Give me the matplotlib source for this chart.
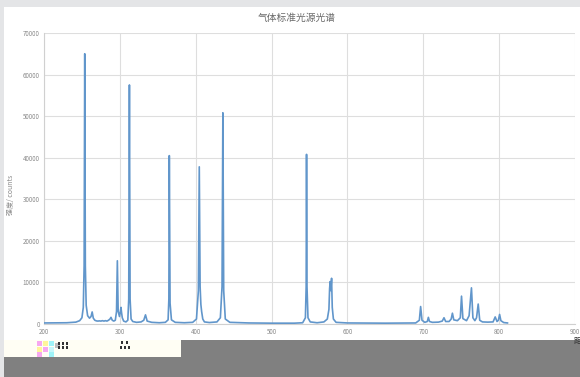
import matplotlib
matplotlib.use("Agg")
import matplotlib.pyplot as plt
from matplotlib.patches import Rectangle

plt.rcParams['font.family'] = ['Noto Sans CJK SC', 'DejaVu Sans']

title = "气体标准光源光谱"
ylabel = "强度/ counts"
xticks = [200, 300, 400, 500, 600, 700, 800, 900]
yticks = [0, 10000, 20000, 30000, 40000, 50000, 60000, 70000]

wavelength = [200, 230, 242, 247, 250, 251.8, 252.9, 253.7, 254.5, 255.6, 257.5, 260,
              262, 263.5, 265, 267, 269, 271, 273, 275, 277, 279, 281, 283, 285,
              287, 288.3, 290, 292, 294, 295.6, 296.7, 297.8, 299.5, 301.5, 302.2, 303.2,
              305, 308, 310.5, 311.7, 312.6, 313.5, 314.8, 317, 322, 328, 331.5, 333.8,
              336, 342, 352, 360, 363.6, 364.6, 365.2, 366.2, 368, 373, 385, 396,
              401, 403.5, 404.7, 405.8, 406.8, 407.8, 409.3, 411.5, 418, 428, 432.5,
              434.7, 435.8, 436.9, 439, 445, 470, 500, 530, 541, 544.6, 545.6, 546.1,
              546.7, 548, 551, 560, 569, 573.5, 575.6, 576.5, 577.2, 578.2, 579.1,
              580, 581.5, 585, 600, 650, 690, 694.8, 696.5, 698.3, 702, 705.3, 706.7,
              708.2, 712, 720, 725, 727.3, 729.5, 734, 736.8, 738.4, 740.2, 745, 748.8,
              750.4, 752.2, 757, 760.4, 763.5, 765.4, 768, 770.2, 772.4, 774.4, 778,
              785, 792, 794.8, 797.2, 799, 800.6, 802.3, 806, 811]
intensity = [250, 300, 450, 800, 1500, 4000, 14000, 65000, 14000, 4500, 2000, 1400,
             1800, 2900, 1400, 900, 750, 700, 750, 700, 800, 700, 800, 700, 900,
             1200, 1600, 900, 700, 900, 3000, 15200, 3000, 1800, 4000, 2800, 1500,
             700, 500, 900, 6000, 57500, 6000, 1200, 600, 400, 500, 900, 2200,
             700, 400, 300, 400, 1000, 6000, 40500, 5000, 1000, 400, 300, 400,
             1200, 8000, 37800, 9000, 4700, 3000, 1200, 500, 350, 500, 1500,
             9000, 50800, 8000, 1200, 400, 250, 200, 200, 300, 1500, 9000, 40800,
             9000, 1500, 500, 300, 500, 1200, 3500, 8500, 10200, 8000, 11000,
             4000, 1200, 400, 250, 200, 250, 900, 4200, 900, 400, 600, 1600,
             600, 400, 450, 700, 1500, 600, 600, 1200, 2600, 1000, 800, 1500,
             6700, 1300, 800, 2000, 8700, 1500, 800, 1500, 4800, 900, 500,
             450, 500, 1700, 600, 900, 2300, 800, 350, 250]

fig = plt.figure(figsize=(5.8, 3.77), dpi=100)
fig.patch.set_facecolor('white')

W, H = 580, 377
def frect(x, y, w, h, color, z=0):
    fig.patches.append(Rectangle((x / W, 1 - (y + h) / H), w / W, h / H,
                                 transform=fig.transFigure, facecolor=color,
                                 edgecolor='none', zorder=z))

# screenshot background bands
frect(0, 0, 580, 7, '#e4e5e7', -5)
frect(0, 0, 4, 377, '#e4e5e7', -5)

ax = fig.add_axes([44 / W, 1 - 324 / H, (575 - 44) / W, (324 - 33) / H])
ax.plot(wavelength, intensity, color='#6196cb', lw=1.2, zorder=3)
ax.set_xlim(200, 900)
ax.set_ylim(0, 70000)
ax.set_xticks(xticks)
ax.set_yticks(yticks)
ax.set_xticklabels([str(v) for v in xticks])
ax.set_yticklabels([str(v) for v in yticks])
ax.tick_params(axis='both', labelsize=4.5, colors='#8a8a8a', length=0, pad=3)
ax.grid(True, color='#dedede', lw=0.8)
ax.set_axisbelow(True)
for side in ['top', 'right']:
    ax.spines[side].set_visible(False)
for side in ['left', 'bottom']:
    ax.spines[side].set_color('#d0d0d0')
    ax.spines[side].set_linewidth(0.8)

fig.text(0.512, 1 - 18 / H, title, ha='center', va='center', fontsize=7, color='#6a6a6a')
fig.text(11 / W, 1 - 195 / H, ylabel, ha='center', va='center', rotation=90,
         fontsize=5, color='#8a8a8a')

# bottom obscured area
frect(4, 340, 576, 37, '#808080', 5)
frect(4, 340, 177, 17, '#fffef4', 6)
for (x, y, c) in [(37, 341, '#f7a8f0'), (43, 341, '#fff59a'), (49, 341, '#9ff3f7'),
                  (37, 347, '#fff59a'), (43, 347, '#f7a8f0'), (49, 347, '#c7f7fa'),
                  (37, 352, '#f7a8f0'), (49, 352, '#9ff3f7'), (55, 343, '#bdbdbd')]:
    frect(x, y, 5, 5, c, 7)
for (x, y) in [(58, 342), (62, 342), (66, 342), (58, 346), (62, 346), (66, 346),
               (121, 341), (126, 341), (120, 346), (124, 346), (128, 346)]:
    frect(x, y, 2, 2.5, '#333333', 7)
fig.text(574 / W, 1 - 340 / H, "距", ha='left', va='center', fontsize=5.5,
         color='#333333', zorder=8)

fig.savefig('out.png', dpi=100, facecolor=fig.get_facecolor())
